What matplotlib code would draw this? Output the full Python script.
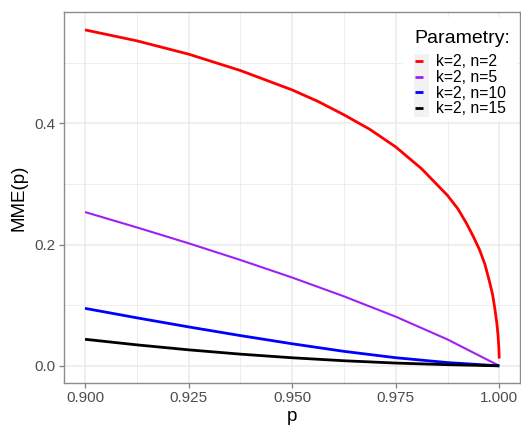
import matplotlib
matplotlib.use('Agg')
import matplotlib.pyplot as plt
from matplotlib.patches import Rectangle
from matplotlib.ticker import MultipleLocator

plt.rcParams['font.family'] = ['Liberation Sans', 'DejaVu Sans']

# values
p_n2 = [0.900, 0.9125, 0.925, 0.9375, 0.950, 0.95625, 0.9625, 0.96875, 0.975,
        0.98125, 0.9875, 0.990, 0.992, 0.9936, 0.9952, 0.9965, 0.9976, 0.9984,
        0.9990, 0.9994, 0.9997, 0.9999, 0.99998]
mme_n2 = [0.554, 0.536, 0.514, 0.487, 0.455, 0.436, 0.414, 0.390, 0.361,
          0.325, 0.281, 0.259, 0.236, 0.215, 0.192, 0.168, 0.140, 0.117,
          0.091, 0.071, 0.050, 0.029, 0.012]

p_grid = [0.900, 0.9125, 0.925, 0.9375, 0.950, 0.9625, 0.975, 0.9875, 1.000]
mme_n5 = [0.2536, 0.2283, 0.2021, 0.1746, 0.1456, 0.1146, 0.0811, 0.0435, 0.0]
mme_n10 = [0.0948, 0.0792, 0.0642, 0.0499, 0.0364, 0.0239, 0.0134, 0.0054, 0.0]
mme_n15 = [0.0438, 0.0346, 0.0264, 0.0193, 0.0133, 0.0084, 0.0046, 0.0019, 0.0]

labels = ['k=2, n=2', 'k=2, n=5', 'k=2, n=10', 'k=2, n=15']
colors = ['#FF0000', '#A020F0', '#0000FF', '#000000']
widths = [2.0, 1.5, 2.0, 2.0]

W, H = 521, 432
fig = plt.figure(figsize=(W / 100, H / 100), dpi=100)
ax = fig.add_axes([64.3 / W, (H - 382.7) / H, (520 - 64.3) / W, (382.7 - 12.3) / H])

series = [(p_n2, mme_n2), (p_grid, mme_n5), (p_grid, mme_n10), (p_grid, mme_n15)]
for (xs, ys), lab, c, lw in zip(series, labels, colors, widths):
    ax.plot(xs, ys, color=c, lw=lw, label=lab, solid_capstyle='butt',
            solid_joinstyle='round', zorder=3)

ax.set_xlim(0.895, 1.005)
ax.set_ylim(-0.0278, 0.583)
ax.set_xticks([0.900, 0.925, 0.950, 0.975, 1.000])
ax.set_xticklabels(['0.900', '0.925', '0.950', '0.975', '1.000'])
ax.set_yticks([0.0, 0.2, 0.4])
ax.set_yticklabels(['0.0', '0.2', '0.4'])
ax.xaxis.set_minor_locator(MultipleLocator(0.0125))
ax.yaxis.set_minor_locator(MultipleLocator(0.1))

ax.grid(True, which='major', color='#EBEBEB', lw=1.1, zorder=0)
ax.grid(True, which='minor', color='#EBEBEB', lw=0.6, zorder=0)
ax.set_axisbelow(True)
ax.tick_params(which='minor', length=0)
ax.tick_params(which='major', length=3.6, width=0.9, color='#7F7F7F',
               labelsize=11, labelcolor='#4D4D4D', pad=2.5)
for s in ax.spines.values():
    s.set_color('#8C8C8C')
    s.set_linewidth(1.0)

ax.set_xlabel('p', fontsize=13.5, labelpad=2)
ax.set_ylabel('MME(p)', fontsize=13.5, labelpad=5)

# legend: white box, grey key background, title as separate text
ax.add_patch(Rectangle((403 / W, (H - 121) / H), 114 / W, 104 / H, transform=fig.transFigure,
                       facecolor='white', edgecolor='none', zorder=4, clip_on=False))
ax.add_patch(Rectangle((414 / W, (H - 117) / H), 15 / W, 63 / H, transform=fig.transFigure,
                       facecolor='#F2F2F2', edgecolor='none', zorder=4.5, clip_on=False))
fig.text(414 / W, (H - 38.5) / H, 'Parametry:', fontsize=14, ha='left', va='center',
         zorder=6)

leg = ax.legend(loc='upper left', bbox_to_anchor=(414.5 / W, (H - 54.5) / H),
                bbox_transform=fig.transFigure, frameon=False,
                fontsize=11.3, handlelength=0.55, handletextpad=0.85,
                labelspacing=0.04, borderpad=0, borderaxespad=0)
leg.set_zorder(5)
for h in leg.legend_handles:
    h.set_linewidth(2.0)

fig.savefig('out.png', dpi=100)
